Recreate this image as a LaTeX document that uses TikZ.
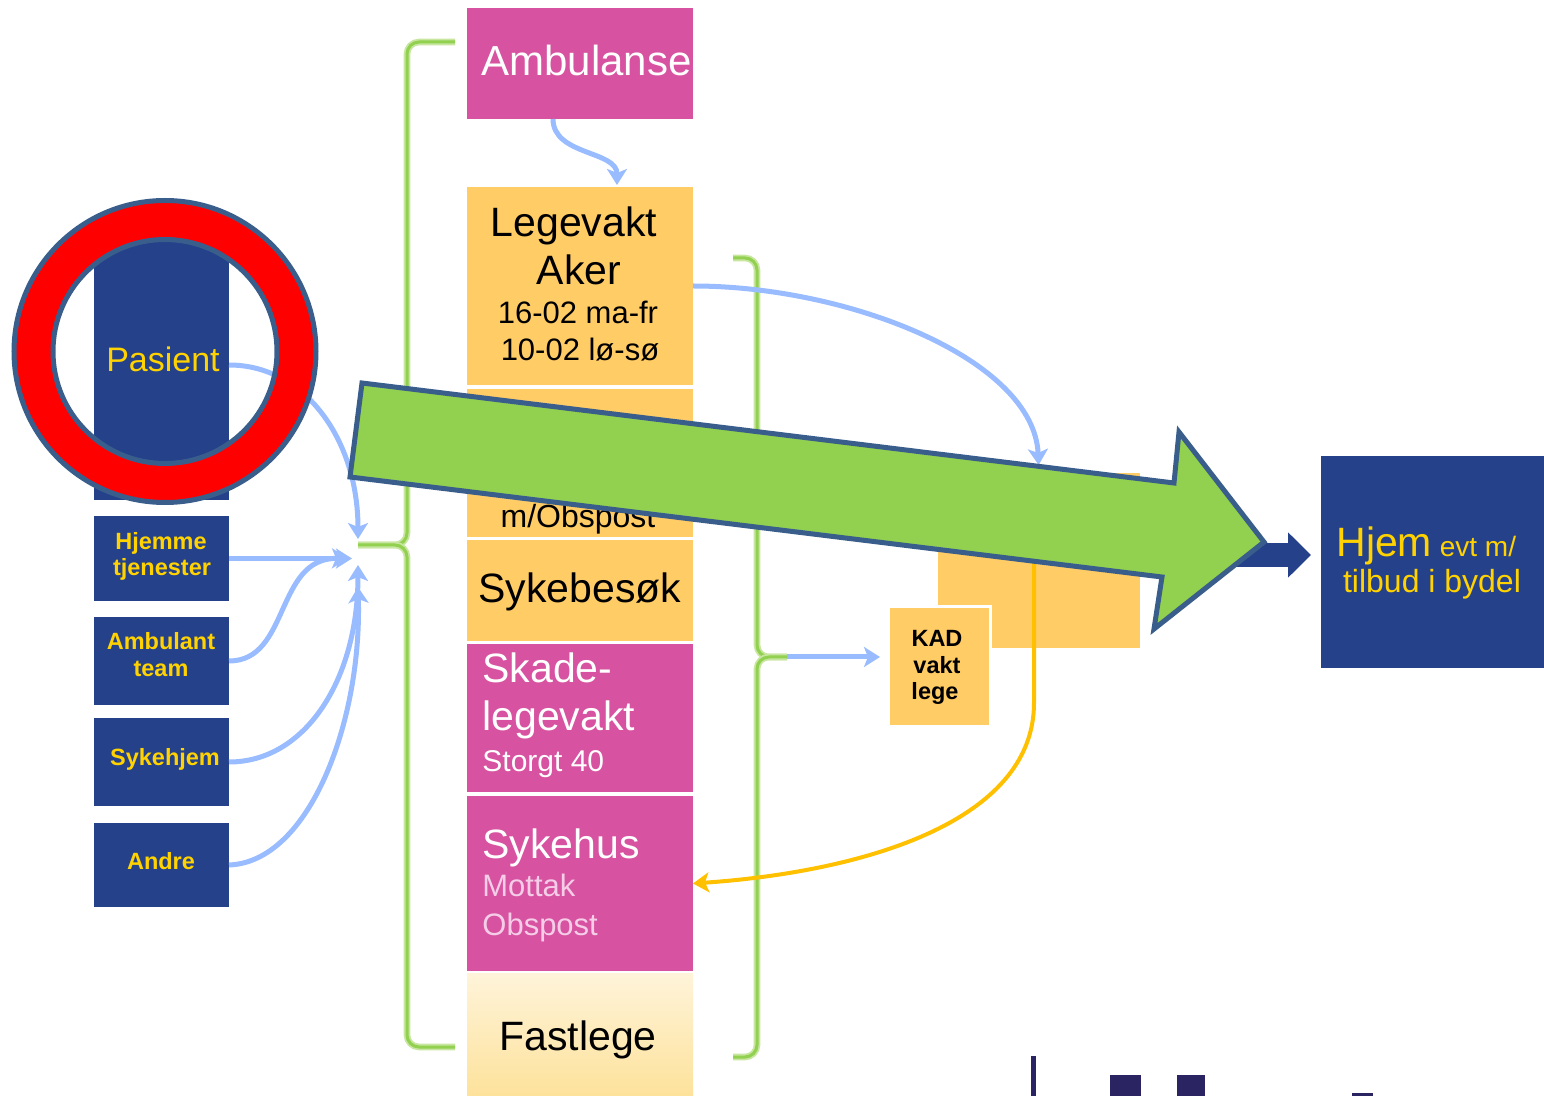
\documentclass[tikz,border=0pt]{standalone}
\usepackage{fontspec}
\setmainfont{Liberation Sans}
\usetikzlibrary{arrows.meta}
\definecolor{navy}{RGB}{36,65,138}
\definecolor{gold}{RGB}{255,210,0}
\definecolor{mag}{RGB}{215,82,160}
\definecolor{ora}{RGB}{255,204,102}
\definecolor{skyb}{RGB}{153,187,255}
\definecolor{leaf}{RGB}{146,208,80}
\definecolor{leafl}{RGB}{200,230,160}
\definecolor{amber}{RGB}{255,192,0}
\definecolor{slate}{RGB}{58,94,140}
\definecolor{ink}{RGB}{43,36,98}
\definecolor{pinkw}{RGB}{245,205,232}
\definecolor{creamt}{RGB}{255,244,218}
\definecolor{creamb}{RGB}{253,226,155}
\newcommand\fsz[1]{\fontsize{#1}{#1}\selectfont}
\tikzset{
  box/.style={inner sep=0pt, outer sep=0pt, anchor=north west},
  lbl/.style={inner sep=0pt, anchor=base},
  lblw/.style={inner sep=0pt, anchor=base west},
  navtext/.style={lbl, text=gold, font=\bfseries\fsz{11.75pt}},
  flow/.style={skyb, line width=2.5pt, -{Stealth[length=8pt,width=10pt,inset=2pt]}},
  brace/.style={draw=leafl, double=leaf, double distance=1.5pt, line width=0.9pt, rounded corners=6pt},
}
\begin{document}
\begin{tikzpicture}[x=0.5pt, y=-0.5pt]
  \useasboundingbox (0,0) rectangle (1544,1096);
  % left column
  \node[box, fill=navy, minimum width=67.5pt, minimum height=135pt] (pas) at (94,230) {};
  \node[box, fill=navy, minimum width=67.5pt, minimum height=42.5pt] (hjt) at (94,516) {};
  \node[box, fill=navy, minimum width=67.5pt, minimum height=44pt] (amt) at (94,617) {};
  \node[box, fill=navy, minimum width=67.5pt, minimum height=44pt] (skh) at (94,718) {};
  \node[box, fill=navy, minimum width=67.5pt, minimum height=42pt] (andre) at (94,823) {};
  \node[lbl, text=gold, font=\fsz{17pt}] (pas-t) at (163,372) {Pasient};
  \node[navtext] (hjt-t1) at (161,550) {Hjemme};
  \node[navtext] (hjt-t2) at (162,576) {tjenester};
  \node[navtext] (amt-t1) at (161,650) {Ambulant};
  \node[navtext] (amt-t2) at (161,677) {team};
  \node[navtext] (skh-t) at (165,766) {Sykehjem};
  \node[navtext] (andre-t) at (161,870) {Andre};
  % middle column
  \node[box, fill=mag, minimum width=113pt, minimum height=55.5pt] (amb) at (467,8) {};
  \node[box, fill=ora, minimum width=113pt, minimum height=99pt] (lva) at (467,187) {};
  \node[box, fill=ora, minimum width=113pt, minimum height=74pt] (lvs) at (467,389) {};
  \node[box, fill=ora, minimum width=113pt, minimum height=50.5pt] (sbe) at (467,540) {};
  \node[box, fill=mag, minimum width=113pt, minimum height=74pt] (skl) at (467,644) {};
  \node[box, fill=mag, minimum width=113pt, minimum height=87.5pt] (shu) at (467,796) {};
  \node[box, top color=creamt, bottom color=creamb, minimum width=113pt, minimum height=61.5pt] (fas) at (467,973) {};
  \node[lblw, text=white, font=\fsz{21pt}] (amb-t) at (481,76) {Ambulanse};
  \node[lbl, font=\fsz{20.5pt}] (lva-t1) at (574,237) {Legevakt};
  \node[lbl, font=\fsz{20.5pt}] (lva-t2) at (579,285) {Aker};
  \node[lbl, font=\fsz{15.5pt}] (lva-t3) at (578,324) {16-02 ma-fr};
  \node[lbl, font=\fsz{15.5pt}] (lva-t4) at (580,361) {10-02 lø-sø};
  \node[lbl, font=\fsz{16pt}] (lvs-t) at (578,528) {m/Obspost};
  \node[lbl, font=\fsz{20.5pt}] (sbe-t) at (580,603) {Sykebesøk};
  \node[lblw, text=white, font=\fsz{20.5pt}] (skl-t1) at (482,683) {Skade-};
  \node[lblw, text=white, font=\fsz{20.5pt}] (skl-t2) at (482,731) {legevakt};
  \node[lblw, text=white, font=\fsz{15pt}] (skl-t3) at (482,772) {Storgt 40};
  \node[lblw, text=white, font=\fsz{20.5pt}] (shu-t1) at (482,858) {Sykehus};
  \node[lblw, text=pinkw, font=\fsz{15.5pt}] (shu-t2) at (482,896) {Mottak};
  \node[lblw, text=pinkw, font=\fsz{15.5pt}] (shu-t3) at (482,935) {Obspost};
  \node[lbl, font=\fsz{20.5pt}] (fas-t) at (578,1050) {Fastlege};
  % right side
  \node[box, fill=ora, minimum width=101pt, minimum height=87.5pt] (obs) at (938,473) {};
  \node[box, fill=ora, draw=white, line width=1.5pt, minimum width=51pt, minimum height=60pt] (kad) at (888,607) {};
  \node[box, fill=navy, minimum width=111.5pt, minimum height=106pt] (hjem) at (1321,456) {};
  \node[lbl, font=\bfseries\fsz{11.75pt}] (kad-t1) at (937,647) {KAD};
  \node[lbl, font=\bfseries\fsz{11.75pt}] (kad-t2) at (937,674) {vakt};
  \node[lbl, font=\bfseries\fsz{11.75pt}] (kad-t3) at (935,700) {lege};
  \node[lblw, text=gold, font=\fsz{20.5pt}] (hjem-t1) at (1336,557) {Hjem\fsz{14pt} evt m/};
  \node[lbl, text=gold, font=\fsz{16pt}] (hjem-t2) at (1432,593) {tilbud i bydel};
  % braces
  \coordinate (lbtip) at (358,545);
  \coordinate (rbtip) at (787,657);
  \draw[brace] (455,42) -- (407,42) -- (407,545) -- (lbtip);
  \draw[brace] (lbtip) -- (407,545) -- (407,1047) -- (455,1047);
  \draw[brace] (733,258) -- (757,258) -- (757,657) -- (rbtip);
  \draw[brace] (rbtip) -- (757,657) -- (757,1057) -- (733,1057);
  \begin{scope}[flow]
    \draw[shorten >=3pt] (pas.east) .. controls (305,365) and (358,440) .. (lbtip);
    \draw[shorten >=3pt] (hjt.east) -- (hjt.east -| lbtip);
    \draw[shorten >=5pt] (amt.east) .. controls (290,661) and (275,558) .. (hjt.east -| lbtip);
    \draw (skh.east) .. controls (305,762) and (358,680) .. ([yshift=-10pt]lbtip);
    \draw (andre.east) .. controls (310,862) and (362,720) .. ([yshift=-21pt]lbtip);
    \draw[shorten >=1pt] ([xshift=-13.5pt]amb.south) to[out=-90, in=90] ([xshift=18.5pt]lva.north);
    \draw[shorten >=4pt] (lva.east) .. controls (850,286) and (1034,360) .. (obs.north);
    \draw[shorten >=4pt] (rbtip) -- (rbtip -| kad.west);
  \end{scope}
  \draw[amber, line width=2pt, -{Stealth[length=8pt,width=10pt,inset=2pt]}]
    ([xshift=-2.5pt]obs.north) -- ++(0,230) .. controls +(0,120) and (860,872) .. (shu.east);
  \draw[navy, line width=12pt, shorten >=5pt, -{Triangle[length=11.5pt,width=22pt]}]
    ([xshift=-60pt,yshift=3.5pt]hjem.west) -- ([yshift=3.5pt]hjem.west);
  % big arrow and ring
  \draw[slate, fill=leaf, line width=2.5pt]
    (362,383) -- (1174,483) -- (1179,432) -- (1264,542) -- (1154,629) -- (1162,577) -- (350,477) -- cycle;
  \draw[slate, fill=red, line width=2.5pt, even odd rule]
    (165,351.5) circle (151) (165,351.5) circle (112);
  % cut-off logo at the bottom
  \fill[ink] (1031,1056) rectangle (1036,1096);
  \fill[ink] (1110,1075) rectangle (1141,1096);
  \fill[ink] (1177,1075) rectangle (1205,1096);
  \fill[ink] (1352,1093) rectangle (1373,1096);
\end{tikzpicture}
\end{document}
